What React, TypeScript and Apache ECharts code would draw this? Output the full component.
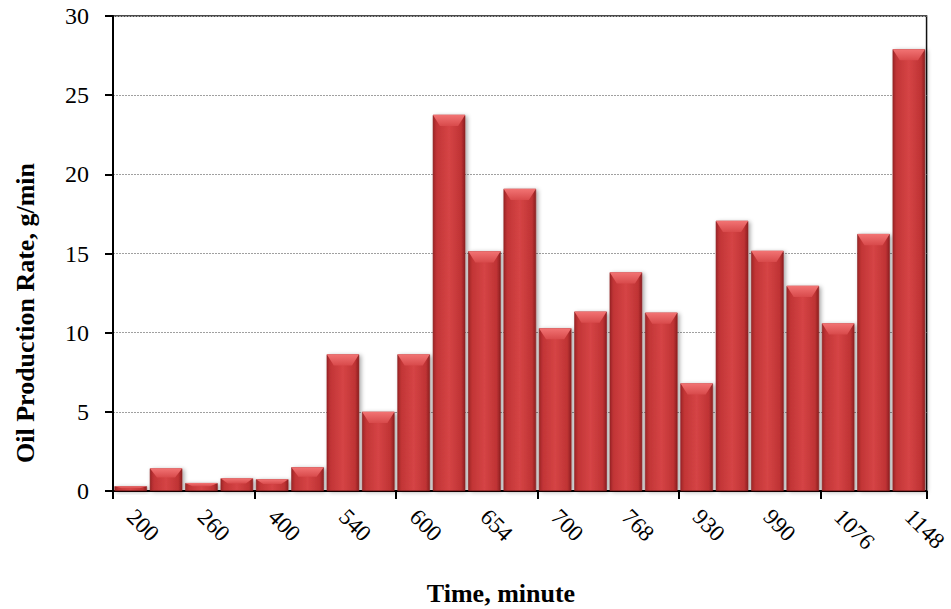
import React, { useEffect, useRef } from "react";
import * as echarts from "echarts";

// Sampling times (minutes); only every other one is labelled on the axis
const timeCategories = [
  "200", "", "260", "", "400", "", "540", "", "600", "", "654", "",
  "700", "", "768", "", "930", "", "990", "", "1076", "", "1148",
];

// Oil production rate for each interval, g/min
const oilRates = [
  0.3, 1.43, 0.5, 0.8, 0.74, 1.5, 8.63, 5.0, 8.63, 23.75, 15.14, 19.08,
  10.28, 11.33, 13.81, 11.26, 6.8, 17.06, 15.16, 12.95, 10.59, 16.23, 27.9,
];

const yTicks = [0, 5, 10, 15, 20, 25, 30];

const FONT = "'Liberation Serif', 'Times New Roman', serif";

export default function App() {
  const ref = useRef<HTMLDivElement>(null);

  useEffect(() => {
    if (!ref.current) return;
    const chart = echarts.init(ref.current, null, { renderer: "svg" });

    const barFill = new echarts.graphic.LinearGradient(0, 0, 1, 0, [
      { offset: 0, color: "#9e2627" },
      { offset: 0.12, color: "#c23536" },
      { offset: 0.5, color: "#d54445" },
      { offset: 0.88, color: "#bf3334" },
      { offset: 1, color: "#8f2021" },
    ]);
    const bevelFill = new echarts.graphic.LinearGradient(0, 0, 0, 1, [
      { offset: 0, color: "#f27474" },
      { offset: 1, color: "#d84a4b" },
    ]);

    // top bevel highlight: shallower on the very short bars
    const bevelData = oilRates.map((v) => ({
      value: v,
      symbolSize: ["100%", v < 2 ? "40%" : 11],
    }));

    chart.setOption({
      animation: false,
      backgroundColor: "#ffffff",
      grid: {
        left: 113,
        right: 22,
        top: 16,
        bottom: 118,
        show: true,
        borderColor: "#111",
        borderWidth: 1.5,
      },
      xAxis: {
        type: "category",
        data: timeCategories,
        axisLine: { lineStyle: { color: "#000", width: 2 } },
        axisTick: {
          show: true,
          interval: 3,
          length: 8,
          lineStyle: { color: "#000", width: 2 },
        },
        axisLabel: {
          interval: 1,
          rotate: -45,
          margin: 22,
          color: "#000",
          fontFamily: FONT,
          fontSize: 23,
        },
      },
      yAxis: {
        type: "value",
        min: yTicks[0],
        max: yTicks[yTicks.length - 1],
        interval: 5,
        axisLine: { show: true, lineStyle: { color: "#000", width: 2 } },
        axisTick: {
          show: true,
          inside: false,
          length: 8,
          lineStyle: { color: "#000", width: 2 },
        },
        axisLabel: {
          margin: 24,
          color: "#000",
          fontFamily: FONT,
          fontSize: 24,
        },
        splitLine: {
          show: true,
          lineStyle: { color: "#a0a0a0", type: [2, 1], width: 1 },
        },
      },
      series: [
        {
          type: "bar",
          data: oilRates,
          barCategoryGap: "8%",
          itemStyle: {
            color: barFill,
            borderColor: "#8a1f20",
            borderWidth: 0.6,
            shadowColor: "rgba(0,0,0,0.35)",
            shadowBlur: 4,
            shadowOffsetX: 2,
            shadowOffsetY: 1,
          },
          z: 2,
        },
        {
          type: "pictorialBar",
          data: bevelData,
          barCategoryGap: "8%",
          symbol: "path://M0,0L100,0L78,100L22,100Z",
          symbolPosition: "end",
          symbolKeepAspect: false,
          itemStyle: { color: bevelFill },
          silent: true,
          z: 3,
        },
      ],
      graphic: [
        {
          type: "text",
          x: 25,
          y: 313,
          rotation: Math.PI / 2,
          style: {
            text: "Oil Production Rate, g/min",
            fontFamily: FONT,
            fontWeight: "bold",
            fontSize: 26,
            fill: "#000",
            textAlign: "center",
            textVerticalAlign: "middle",
          },
        },
        {
          type: "text",
          x: 501,
          y: 593,
          style: {
            text: "Time, minute",
            fontFamily: FONT,
            fontWeight: "bold",
            fontSize: 26,
            fill: "#000",
            textAlign: "center",
            textVerticalAlign: "middle",
          },
        },
      ],
    });

    return () => chart.dispose();
  }, []);

  return (
    <div
      ref={ref}
      style={{ position: "fixed", left: 0, top: 0, width: 951, height: 609 }}
    />
  );
}
